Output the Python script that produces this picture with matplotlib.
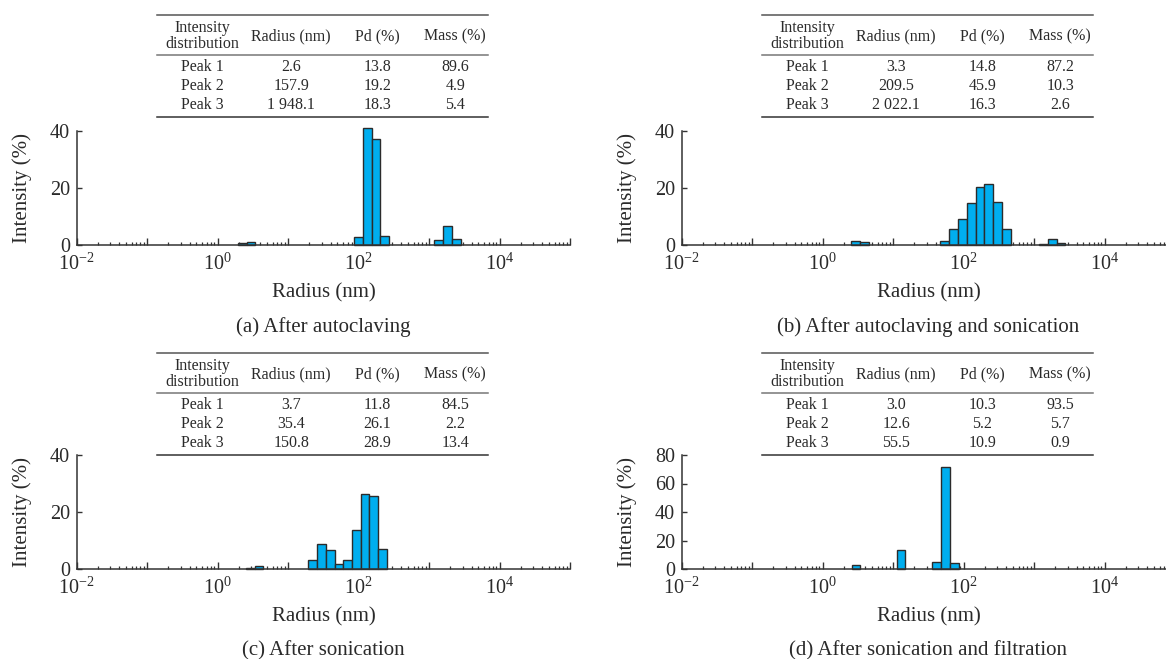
import numpy as np
import matplotlib
matplotlib.use("Agg")
import matplotlib.pyplot as plt
from matplotlib.ticker import LogLocator, FuncFormatter, NullFormatter, FixedLocator
from matplotlib.lines import Line2D

plt.rcParams['font.family'] = ['Liberation Serif', 'DejaVu Serif']
plt.rcParams['mathtext.fontset'] = 'custom'
plt.rcParams['mathtext.rm'] = 'Liberation Serif'
plt.rcParams['mathtext.it'] = 'Liberation Serif:italic'
plt.rcParams['mathtext.bf'] = 'Liberation Serif:bold'

# ---------------- data ----------------
radius_a = [2.23, 2.96, 100, 133, 176, 232, 1368, 1837, 2455]
intensity_a = [0.7, 1.0, 2.7, 41.2, 37.1, 3.3, 1.75, 6.8, 2.0]

radius_b = [2.90, 3.89, 53.5, 71.8, 95.5, 127.6, 170, 226, 302, 403, 1365, 1811, 2399]
intensity_b = [1.5, 0.9, 1.3, 5.7, 9.1, 14.7, 20.2, 21.3, 15.2, 5.7, 0.4, 2.0, 0.7]

radius_c = [2.90, 3.86, 22.2, 29.5, 39.5, 52.7, 70.1, 93.1, 123, 163, 217]
intensity_c = [0.4, 0.9, 3.3, 8.7, 6.7, 1.8, 3.3, 13.8, 26.2, 25.6, 6.9]

radius_d = [2.97, 12.9, 41.6, 55.5, 73.5]
intensity_d = [2.8, 13.2, 5.2, 71.5, 4.5]

yticks_a = [0, 20, 40]
yticks_b = [0, 20, 40]
yticks_c = [0, 20, 40]
yticks_d = [0, 20, 40, 60, 80]

captions = ["(a) After autoclaving", "(b) After autoclaving and sonication",
            "(c) After sonication", "(d) After sonication and filtration"]

table_header = ["Intensity\ndistribution", "Radius (nm)", "Pd (%)", "Mass (%)"]
peak_labels = ["Peak 1", "Peak 2", "Peak 3"]

peak_radius_a = ["2.6", "157.9", "1 948.1"]
peak_pd_a = ["13.8", "19.2", "18.3"]
peak_mass_a = ["89.6", "4.9", "5.4"]

peak_radius_b = ["3.3", "209.5", "2 022.1"]
peak_pd_b = ["14.8", "45.9", "16.3"]
peak_mass_b = ["87.2", "10.3", "2.6"]

peak_radius_c = ["3.7", "35.4", "150.8"]
peak_pd_c = ["11.8", "26.1", "28.9"]
peak_mass_c = ["84.5", "2.2", "13.4"]

peak_radius_d = ["3.0", "12.6", "55.5"]
peak_pd_d = ["10.3", "5.2", "10.9"]
peak_mass_d = ["93.5", "5.7", "0.9"]

x_label = "Radius (nm)"
y_label = "Intensity (%)"

# ---------------- layout ----------------
W, H = 1166, 659
fig = plt.figure(figsize=(W / 100, H / 100), dpi=100)
fig.patch.set_facecolor('white')


def fx(px):
    return px / W


def fy(py):
    return 1 - py / H


TXT = '#2a2a2a'
SP = '#333333'
BAR = '#00aeef'
EDGE = '#2b2b2b'
DEC = 70.5            # pixels per decade
AXW = DEC * 7
BINW = 0.125          # bin width in decades

panels = [
    dict(left=76.7, top=131, bottom=245, r=radius_a, v=intensity_a, yt=yticks_a,
         tr=peak_radius_a, tp=peak_pd_a, tm=peak_mass_a, ttop=15),
    dict(left=681.7, top=131, bottom=245, r=radius_b, v=intensity_b, yt=yticks_b,
         tr=peak_radius_b, tp=peak_pd_b, tm=peak_mass_b, ttop=15),
    dict(left=76.7, top=455, bottom=569, r=radius_c, v=intensity_c, yt=yticks_c,
         tr=peak_radius_c, tp=peak_pd_c, tm=peak_mass_c, ttop=353),
    dict(left=681.7, top=455, bottom=569, r=radius_d, v=intensity_d, yt=yticks_d,
         tr=peak_radius_d, tp=peak_pd_d, tm=peak_mass_d, ttop=353),
]


def xfmt(v, pos):
    e = int(round(np.log10(v)))
    if e % 2 == 0 and e < 5:
        return r'$\mathregular{10^{%d}}$' % e
    return ''


for i, p in enumerate(panels):
    ax = fig.add_axes([fx(p['left']), fy(p['bottom']), AXW / W, (p['bottom'] - p['top']) / H])
    ax.set_facecolor('none')
    ax.set_xscale('log')
    ax.set_xlim(1e-2, 1e5)
    ax.set_ylim(p['yt'][0], p['yt'][-1])

    r = np.array(p['r'], dtype=float)
    lefts = r * 10 ** (-BINW / 2)
    rights = r * 10 ** (BINW / 2)
    bars = ax.bar(lefts, p['v'], width=rights - lefts, align='edge', color=BAR,
                  edgecolor=EDGE, linewidth=1.0, zorder=3)
    for b in bars:
        b.set_clip_on(False)

    for s in ['top', 'right']:
        ax.spines[s].set_visible(False)
    for s in ['left', 'bottom']:
        ax.spines[s].set_color(SP)
        ax.spines[s].set_linewidth(1.1)
        ax.spines[s].set_zorder(4)

    ax.xaxis.set_major_locator(LogLocator(base=10, numticks=20))
    ax.xaxis.set_major_formatter(FuncFormatter(xfmt))
    ax.xaxis.set_minor_locator(LogLocator(base=10, subs=np.arange(2, 10), numticks=20))
    ax.xaxis.set_minor_formatter(NullFormatter())
    ax.yaxis.set_major_locator(FixedLocator(p['yt']))

    ax.tick_params(axis='x', which='major', direction='in', length=4.8, width=1.0,
                   color=SP, labelsize=14.5, labelcolor=TXT, pad=6.5)
    ax.tick_params(axis='x', which='minor', direction='in', length=2.4, width=0.9, color=SP)
    ax.tick_params(axis='y', which='major', direction='in', length=3.6, width=1.0,
                   color=SP, labelsize=14.5, labelcolor=TXT, pad=5)
    for lab in ax.get_xticklabels() + ax.get_yticklabels():
        lab.set_zorder(5)

    cx = p['left'] + AXW / 2
    # y label
    fig.text(fx(p['left'] - 55), fy((p['top'] + p['bottom']) / 2), y_label, rotation=90,
             ha='center', va='center', fontsize=15, color=TXT)
    # x label
    fig.text(fx(cx), fy(p['bottom'] + 48), x_label, ha='center', va='center',
             fontsize=15, color=TXT)
    # caption
    fig.text(fx(cx), fy(p['bottom'] + 82), captions[i], ha='center', va='center',
             fontsize=15, color=TXT)

    # table
    tl = p['left'] + 80.5
    tw = 331
    tt = p['ttop']
    col_off = [45, 134, 220, 298]
    fig.add_artist(Line2D([fx(tl), fx(tl + tw)], [fy(tt), fy(tt)], color='#555555', lw=1.1))
    fig.add_artist(Line2D([fx(tl), fx(tl + tw)], [fy(tt + 40), fy(tt + 40)], color='#777777', lw=1.1))
    fig.add_artist(Line2D([fx(tl), fx(tl + tw)], [fy(tt + 102), fy(tt + 102)], color='#333333', lw=1.1))
    for j, h in enumerate(table_header):
        fig.text(fx(tl + col_off[j]), fy(tt + 21), h, ha='center', va='center',
                 fontsize=11.5, color=TXT, linespacing=0.95)
    cols = [peak_labels, p['tr'], p['tp'], p['tm']]
    for k in range(3):
        yy = tt + 52 + 19 * k
        for j in range(4):
            fig.text(fx(tl + col_off[j]), fy(yy), cols[j][k], ha='center', va='center',
                     fontsize=11.5, color=TXT)

fig.savefig('out.png', dpi=100, facecolor='white')
